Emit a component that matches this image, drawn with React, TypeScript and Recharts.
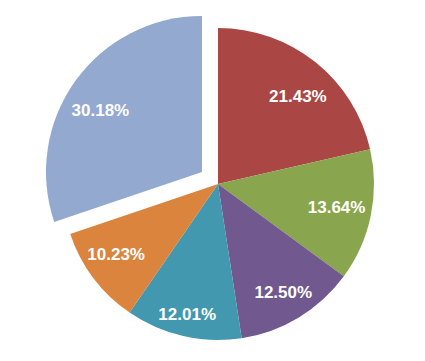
import { PieChart, Pie, Cell } from 'recharts';

const categories = ['A', 'B', 'C', 'D', 'E', 'F'];
const shares = [21.43, 13.64, 12.5, 12.01, 10.23, 30.18];
const colors = ['#AA4643', '#89A54E', '#71588F', '#4198AF', '#DB843D', '#93A9CF'];
const explodedIndex = 5;

// small per-slice label nudges (Excel "best fit" placement isn't a fixed radius)
const labelNudge = [
    [5, 6],
    [1, -1],
    [3, 6],
    [-4, 13],
    [-6, -2],
    [-4, 9],
];

const RAD = Math.PI / 180;

const chartData = categories.map((name, i) => ({ name, value: shares[i] }));

const renderLabel = (only?: number) => (props: any) => {
    const { cx, cy, midAngle, outerRadius, value, index } = props;
    if (only !== undefined && index !== only) return null;
    if (only === undefined && index === explodedIndex) return null;
    const r = outerRadius * 0.77;
    const x = cx + r * Math.cos(-midAngle * RAD) + labelNudge[index][0];
    const y = cy + r * Math.sin(-midAngle * RAD) + labelNudge[index][1];
    return (
        <text
            x={x}
            y={y}
            fill="#ffffff"
            textAnchor="middle"
            dominantBaseline="central"
            fontFamily="'Liberation Sans', Arial, sans-serif"
            fontWeight="bold"
            fontSize={17}
        >
            {`${value.toFixed(2)}%`}
        </text>
    );
};

export default function App() {
    return (
        <div style={{ width: 425, height: 361, background: '#fff' }}>
            <style>{'body{margin:0}'}</style>
            <PieChart width={425} height={361} margin={{ top: 0, right: 0, bottom: 0, left: 0 }}>
                {/* main pie, exploded slice left empty */}
                <Pie
                    data={chartData}
                    dataKey="value"
                    cx={218}
                    cy={184}
                    outerRadius={156}
                    startAngle={90}
                    endAngle={-270}
                    stroke="none"
                    labelLine={false}
                    label={renderLabel()}
                    isAnimationActive={false}
                >
                    {chartData.map((d, i) => (
                        <Cell key={`main-${d.name}`} fill={i === explodedIndex ? 'transparent' : colors[i]} />
                    ))}
                </Pie>
                {/* exploded slice, pulled out toward upper left */}
                <Pie
                    data={chartData}
                    dataKey="value"
                    cx={202}
                    cy={172}
                    outerRadius={156}
                    startAngle={90}
                    endAngle={-270}
                    stroke="none"
                    labelLine={false}
                    label={renderLabel(explodedIndex)}
                    isAnimationActive={false}
                >
                    {chartData.map((d, i) => (
                        <Cell key={`exp-${d.name}`} fill={i === explodedIndex ? colors[i] : 'transparent'} />
                    ))}
                </Pie>
            </PieChart>
        </div>
    );
}
